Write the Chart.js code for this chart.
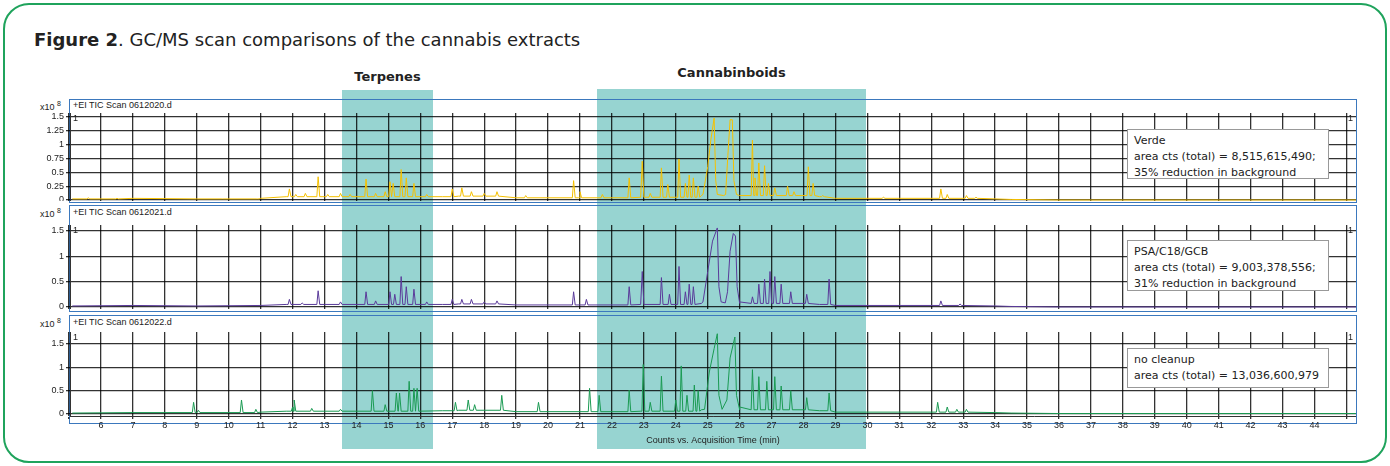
<!DOCTYPE html>
<html>
<head>
<meta charset="utf-8">
<script src="https://cdn.jsdelivr.net/npm/chart.js@4.4.1/dist/chart.umd.min.js"></script>
<style>
  body { margin: 0; background: #fff; font-family: "DejaVu Sans", Verdana, sans-serif; }
  #wrap { position: relative; width: 1390px; height: 466px; overflow: hidden; }
  .abs { position: absolute; }
  .band { position: absolute; background: #97d4d1; }
  .frame { position: absolute; border: 1px solid #3b78bd; box-sizing: border-box; }
  .hdr { position: absolute; font-size: 9px; color: #222; font-family: "Liberation Sans", Arial, sans-serif; }
  .exp { position: absolute; font-size: 9px; color: #222; font-family: "Liberation Sans", Arial, sans-serif; }
  .info { position: absolute; background: #fff; border: 1px solid #999; font-size: 11px; line-height: 16px; padding: 3px 6px; box-sizing: border-box; color: #222; white-space: nowrap; }
  canvas { position: absolute; }
</style>
</head>
<body>
<div id="wrap">
  <div class="abs" style="left:3px;top:3px;width:1384px;height:460px;border:2px solid #1fa35c;border-radius:26px;box-sizing:border-box;"></div>
  <div class="abs" style="left:34px;top:29px;font-size:18px;color:#222;"><b>Figure 2</b>. GC/MS scan comparisons of the cannabis extracts</div>
  <div class="band" style="left:342px;top:90px;width:91px;height:359px;"></div>
  <div class="band" style="left:597px;top:89px;width:269px;height:360px;"></div>
  <div class="abs" style="left:342px;top:69px;width:91px;text-align:center;font-size:13px;font-weight:bold;color:#222;">Terpenes</div>
  <div class="abs" style="left:597px;top:65px;width:269px;text-align:center;font-size:13px;font-weight:bold;color:#222;">Cannabinboids</div>

  <div class="frame" style="left:69px;top:99px;width:1288px;height:104px;"></div>
  <div class="frame" style="left:69px;top:205px;width:1288px;height:107px;"></div>
  <div class="frame" style="left:69px;top:315px;width:1288px;height:109px;"></div>
  <div class="hdr" style="left:73px;top:100px;">+EI TIC Scan 0612020.d</div>
  <div class="hdr" style="left:73px;top:207px;">+EI TIC Scan 0612021.d</div>
  <div class="hdr" style="left:73px;top:317px;">+EI TIC Scan 0612022.d</div>
  <div class="exp" style="left:40px;top:100px;">x10 <sup style="font-size:7px">8</sup></div>
  <div class="exp" style="left:40px;top:207px;">x10 <sup style="font-size:7px">8</sup></div>
  <div class="exp" style="left:40px;top:317px;">x10 <sup style="font-size:7px">8</sup></div>

  <canvas id="c1" style="left:30px;top:113px;" width="1326" height="88"></canvas>
  <canvas id="c2" style="left:30px;top:225px;" width="1326" height="84"></canvas>
  <canvas id="c3" style="left:30px;top:332px;" width="1326" height="114"></canvas>

  <div class="exp" style="left:73px;top:113px;">1</div>
  <div class="exp" style="left:1348px;top:113px;">1</div>
  <div class="exp" style="left:73px;top:225px;">1</div>
  <div class="exp" style="left:1348px;top:225px;">1</div>
  <div class="exp" style="left:73px;top:332px;">1</div>
  <div class="exp" style="left:1348px;top:332px;">1</div>

  <div class="info" style="left:1127px;top:129px;width:202px;height:50px;">Verde<br>area cts (total) = 8,515,615,490;<br>35% reduction in background</div>
  <div class="info" style="left:1127px;top:240px;width:202px;height:51px;">PSA/C18/GCB<br>area cts (total) = 9,003,378,556;<br>31% reduction in background</div>
  <div class="info" style="left:1127px;top:348px;width:202px;height:40px;">no cleanup<br>area cts (total) = 13,036,600,979</div>
</div>
<script>
const xTicks = [5,6,7,8,9,10,11,12,13,14,15,16,17,18,19,20,21,22,23,24,25,26,27,28,29,30,31,32,33,34,35,36,37,38,39,40,41,42,43,44,45]

// Verde
const verdeBaseT = [5.1,7,9,11,11.8,13,16.7,17.2,19,21,22,22.9,24.8,26,28.5,29,31,34,34.5,36,45.3]
const verdeBaseV = [0.02,0.03,0.02,0.03,0.06,0.06,0.06,0.07,0.04,0.04,0.04,0.05,0.08,0.08,0.06,0.03,0.03,0.02,0.01,0,0]
const verdePeakT = [5.6,6.5,9.8,10.9,11.9,12.1,12.4,12.8,13.1,13.5,13.8,14.3,14.6,14.9,15.05,15.15,15.4,15.56,15.8,16.2,17.0,17.3,17.6,18.0,18.4,19.3,20.8,21.0,21.7,22.54,22.95,23.2,23.55,23.75,24.1,24.3,24.42,24.55,24.7,26.4,26.48,26.6,26.78,26.9,27.1,27.5,27.7,28.15,28.3,28.6,30.5,32.3,32.5,33.1,33.4]
const verdePeakV = [0.04,0.03,0.02,0.02,0.2,0.1,0.12,0.42,0.1,0.12,0.1,0.38,0.12,0.15,0.33,0.3,0.55,0.4,0.3,0.1,0.2,0.22,0.15,0.12,0.15,0.08,0.35,0.15,0.1,0.4,0.7,0.12,0.58,0.28,0.74,0.3,0.45,0.4,0.25,1.08,0.4,0.67,0.62,0.3,0.22,0.25,0.15,0.6,0.3,0.08,0.05,0.2,0.1,0.08,0.05]
const verdeBroad = [[24.85,0.1],[25.0,0.6],[25.1,1.1],[25.2,1.48],[25.25,0.36],[25.3,0.1],[25.5,0.08],[25.56,0.1],[25.63,0.8],[25.7,1.45],[25.77,1.45],[25.82,0.35],[25.9,0.1]]

// PSA/C18/GCB
const psaBaseT = [5.1,7,9,11,11.8,13,16.7,17.2,19,21,22,22.9,24.8,26,28.5,29,31,34,34.5,36,45.3]
const psaBaseV = [0.02,0.03,0.02,0.03,0.05,0.05,0.05,0.06,0.04,0.04,0.04,0.05,0.07,0.07,0.05,0.03,0.03,0.02,0.01,0,0]
const psaPeakT = [11.9,12.3,12.8,13.5,14.3,14.6,15.05,15.2,15.4,15.56,15.8,16.2,17.0,17.3,17.6,18.0,18.4,20.8,21.2,22.54,22.95,23.55,23.8,24.1,24.3,24.42,24.55,26.4,26.6,26.78,26.95,27.1,27.3,27.6,28.1,28.8,32.3,32.9]
const psaPeakV = [0.15,0.08,0.32,0.1,0.3,0.12,0.3,0.25,0.6,0.4,0.35,0.1,0.15,0.15,0.15,0.1,0.12,0.3,0.15,0.4,0.7,0.58,0.25,0.8,0.3,0.45,0.4,0.2,0.45,0.55,0.7,0.6,0.45,0.3,0.25,0.55,0.12,0.06]
const psaBroad = [[24.85,0.1],[25.0,0.7],[25.15,1.3],[25.3,1.56],[25.35,0.4],[25.42,0.1],[25.55,0.08],[25.62,0.3],[25.7,1.1],[25.8,1.45],[25.87,1.4],[25.92,0.4],[26.0,0.1]]

// no cleanup
const noneBaseT = [5.1,7,9,11,11.8,13,16.7,17.2,19,21,22,22.9,24.8,26,28.5,29,31,34,34.5,36,45.3]
const noneBaseV = [0.02,0.03,0.03,0.04,0.06,0.06,0.07,0.08,0.05,0.05,0.05,0.06,0.09,0.09,0.07,0.04,0.04,0.03,0.02,0.01,0.01]
const nonePeakT = [8.9,9.05,10.4,10.85,12.0,12.05,12.6,13.5,14.5,14.9,15.25,15.35,15.65,15.8,15.9,17.1,17.5,17.7,18.55,19.7,21.3,21.6,22.54,22.98,23.2,23.55,24.0,24.17,24.35,24.58,24.7,26.4,26.6,26.85,27.1,27.3,27.6,28.1,28.8,32.2,32.5,32.8,33.1]
const nonePeakV = [0.25,0.08,0.3,0.1,0.15,0.3,0.12,0.1,0.5,0.2,0.45,0.45,0.7,0.55,0.55,0.25,0.3,0.2,0.4,0.25,0.55,0.4,0.51,1.06,0.25,0.81,0.3,1.03,0.4,0.62,0.5,0.95,0.8,0.7,0.8,0.6,0.5,0.35,0.45,0.25,0.15,0.1,0.1]
const noneBroad = [[24.9,0.1],[25.05,0.9],[25.2,1.4],[25.3,1.72],[25.35,0.4],[25.45,0.1],[25.6,0.3],[25.7,1.2],[25.85,1.65],[25.9,0.4],[26.0,0.15]]

function baseAt(bt, bv, t) {
    let v = bv[0]
    for (let i = 0; i < bt.length; i++) if (bt[i] <= t) v = bv[i]
    return v
}

function buildTrace(bt, bv, pt, pv, broad) {
    let pts = []
    for (let i = 0; i < bt.length; i++) pts.push({ x: bt[i], y: bv[i] })
    for (let i = 0; i < pt.length; i++) {
        let b = baseAt(bt, bv, pt[i])
        pts.push({ x: pt[i] - 0.04, y: b })
        pts.push({ x: pt[i], y: pv[i] })
        pts.push({ x: pt[i] + 0.05, y: b })
    }
    for (let i = 0; i < broad.length; i++) pts.push({ x: broad[i][0], y: broad[i][1] })
    pts.sort((a, b) => a.x - b.x)
    return pts
}

function noPad(s) {
    s.paddingTop = 0; s.paddingBottom = 0; s.paddingLeft = 0; s.paddingRight = 0
}

function makeChart(id, pts, color, ymin, ymax, yTicks, bottom) {
    new Chart(document.getElementById(id), {
        type: 'line',
        data: { datasets: [{ data: pts, borderColor: color, borderWidth: 1, pointRadius: 0, tension: 0 }] },
        options: {
            responsive: false, animation: false,
            plugins: { legend: { display: false }, tooltip: { enabled: false } },
            layout: { padding: 0 },
            scales: {
                x: {
                    type: 'linear', min: 5.03, max: 45.3,
                    afterBuildTicks: s => { s.ticks = xTicks.map(v => ({ value: v })) },
                    afterFit: s => { s.height = bottom ? 30 : 0; noPad(s) },
                    grid: { color: 'rgba(0,0,0,0.8)', lineWidth: 1.3, drawTicks: bottom, tickLength: 3 },
                    border: { color: '#333' },
                    ticks: {
                        display: bottom, padding: 1, color: '#222', font: { size: 9, family: 'Liberation Sans' },
                        maxRotation: 0, autoSkip: false,
                        callback: v => (v >= 6 && v <= 44) ? v : ''
                    },
                    title: { display: bottom, text: 'Counts vs. Acquisition Time (min)', color: '#222', font: { size: 9, family: 'Liberation Sans' }, padding: 0 }
                },
                y: {
                    min: ymin, max: ymax,
                    afterBuildTicks: s => { s.ticks = yTicks.map(v => ({ value: v })) },
                    afterFit: s => { s.width = 40; noPad(s) },
                    grid: { color: 'rgba(0,0,0,0.8)', lineWidth: 1.3, tickLength: 4 },
                    border: { color: '#333' },
                    ticks: { color: '#222', padding: 2, autoSkip: false, font: { size: 9, family: 'Liberation Sans' }, callback: v => String(v) }
                }
            }
        }
    })
}

makeChart('c1', buildTrace(verdeBaseT, verdeBaseV, verdePeakT, verdePeakV, verdeBroad), '#f5c000', -0.018, 1.572, [0,0.25,0.5,0.75,1,1.25,1.5], false)
makeChart('c2', buildTrace(psaBaseT, psaBaseV, psaPeakT, psaPeakV, psaBroad), '#5a3a9a', -0.04, 1.618, [0,0.5,1,1.5], false)
makeChart('c3', buildTrace(noneBaseT, noneBaseV, nonePeakT, nonePeakV, noneBroad), '#1a9a52', -0.043, 1.757, [0,0.5,1,1.5], true)
</script>
</body>
</html>
